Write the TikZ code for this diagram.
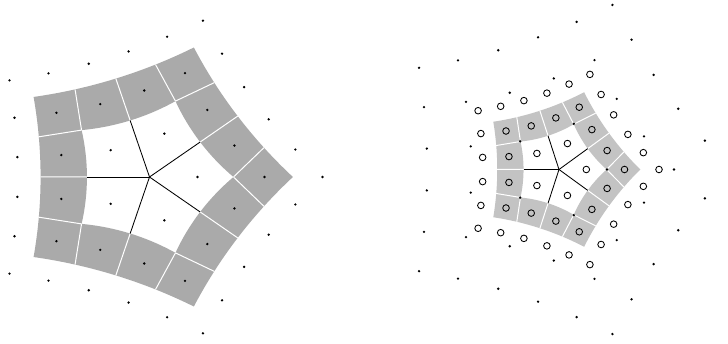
\documentclass[tikz,border=0pt]{standalone}
\usetikzlibrary{calc}
\definecolor{ringdark}{HTML}{AAAAAA}
\definecolor{ringlight}{HTML}{C3C3C3}
\tikzset{
  dot/.style={circle,fill=black,inner sep=0pt,minimum size=2.6pt},
  ringmark/.style={circle,draw=black,line width=0.85pt,inner sep=0pt,minimum size=6.6pt},
  cut/.style={draw=white,line width=1pt},
  spoke/.style={draw=black,line width=0.85pt},
}
% #1 name prefix, #2 fill colour
\newcommand\meshdraw[2]{%
  \fill[#2,even odd rule] (0:143.4)
     \foreach \k in {0,...,4}{ arc[start angle={225.51+72*\k}, end angle={206.49+72*\k}, radius=510] } -- cycle
     (0:84)
     \foreach \k in {0,...,4}{ arc[start angle={228.38+72*\k}, end angle={203.62+72*\k}, radius=230.2] } -- cycle;
  \coordinate (#1C) at (0,0);
  \foreach \k in {0,...,4}{
    \coordinate (#1Q\k) at ({72*\k}:84);
    \coordinate (#1Sa\k) at ({72*\k+15.1}:118.55);
    \coordinate (#1Sb\k) at ({72*\k-15.1}:118.55);
    \coordinate (#1P\k) at ({72*\k+36}:62.6);
    \coordinate (#1M\k) at ({72*\k+36}:109);
    \draw[cut] (#1Q\k) -- (#1Sa\k) (#1Q\k) -- (#1Sb\k) (#1P\k) -- (#1M\k);
    \draw[spoke] (#1C) -- (#1P\k);
  }
}
\begin{document}
\begin{tikzpicture}[x=1pt,y=1pt]
\useasboundingbox (0,0) rectangle (728,343);
\clip (0,0) rectangle (728,343);
% ---------- left figure ----------
\begin{scope}[shift={(149.5,166)}, yscale=0.95]
  \meshdraw{L}{ringdark}
  \foreach \k in {0,...,4}{
    \node[dot] (Lw\k) at ({72*\k}:48) {};
    \node[dot] (Lv\k) at ({72*\k}:115) {};
    \node[dot] (Lma\k) at ({72*\k+21.3}:91.2) {};
    \node[dot] (Lmb\k) at ({72*\k-21.3}:91.2) {};
    \node[dot] (Lo\k) at ({72*\k}:173) {};
    \node[dot] (Loa\k) at ({72*\k+11.2}:148.7) {};
    \node[dot] (Lob\k) at ({72*\k-11.2}:148.7) {};
    \node[dot] (Loc\k) at ({72*\k+27}:133.8) {};
    \node[dot] (Lod\k) at ({72*\k-27}:133.8) {};
  }
\end{scope}
% ---------- right figure ----------
\begin{scope}[shift={(559,173.5)}]
  \begin{scope}[scale=0.567]
    \meshdraw{R}{ringlight}
  \end{scope}
  \foreach \k in {0,...,4}{
    \node[ringmark] (Rcw\k) at ({72*\k}:27.3) {};
    \node[ringmark] (Rcv\k) at ({72*\k}:65.5) {};
    \node[ringmark] (Rcma\k) at ({72*\k+21.5}:51.7) {};
    \node[ringmark] (Rcmb\k) at ({72*\k-21.5}:51.7) {};
    \node[ringmark] (Rco\k) at ({72*\k}:100) {};
    \node[ringmark] (Rcoa\k) at ({72*\k+11.3}:86) {};
    \node[ringmark] (Rcob\k) at ({72*\k-11.3}:86) {};
    \node[ringmark] (Rcoc\k) at ({72*\k+27}:77.3) {};
    \node[ringmark] (Rcod\k) at ({72*\k-27}:77.3) {};
    \node[dot] (Rw\k) at ({72*\k}:48) {};
    \node[dot] (Rv\k) at ({72*\k}:115) {};
    \node[dot] (Rma\k) at ({72*\k+21.3}:91.2) {};
    \node[dot] (Rmb\k) at ({72*\k-21.3}:91.2) {};
    \node[dot] (Ro\k) at ({72*\k}:173) {};
    \node[dot] (Roa\k) at ({72*\k+11.2}:148.7) {};
    \node[dot] (Rob\k) at ({72*\k-11.2}:148.7) {};
    \node[dot] (Roc\k) at ({72*\k+27}:133.8) {};
    \node[dot] (Rod\k) at ({72*\k-27}:133.8) {};
  }
\end{scope}
\end{tikzpicture}
\end{document}
